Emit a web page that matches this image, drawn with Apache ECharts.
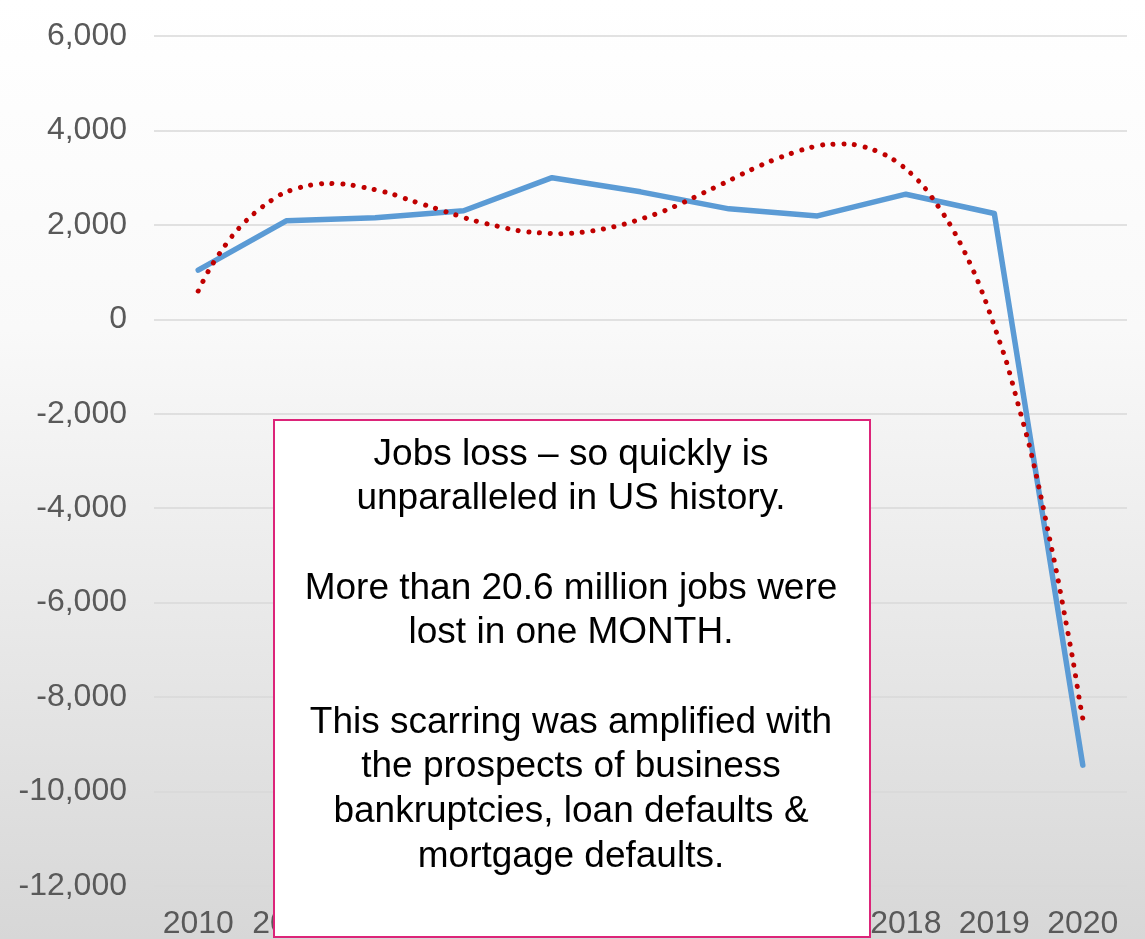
<!DOCTYPE html>
<html>
<head>
<meta charset="utf-8">
<script src="https://cdn.jsdelivr.net/npm/echarts@6/dist/echarts.min.js"></script>
<style>
  html, body { margin: 0; padding: 0; background: #fff; }
  #chart { width: 1145px; height: 939px; }
</style>
</head>
<body>
<div id="chart"></div>
<script>
// Annual change in US payroll jobs (thousands)
const years = ['2010', '2011', '2012', '2013', '2014', '2015', '2016', '2017', '2018', '2019', '2020'];
const jobsChange = [1040, 2090, 2150, 2300, 3000, 2700, 2340, 2190, 2650, 2240, -9440];

// Polynomial trendline, sampled along fractional years
const trendYears = [2010.00, 2010.12, 2010.25, 2010.40, 2010.57, 2010.76, 2010.96, 2011.20, 2011.45, 2011.68,
  2011.93, 2012.17, 2012.40, 2012.64, 2012.87, 2013.11, 2013.36, 2013.60, 2013.84, 2014.09,
  2014.33, 2014.58, 2014.82, 2015.05, 2015.29, 2015.52, 2015.73, 2015.96, 2016.18, 2016.41,
  2016.64, 2016.87, 2017.11, 2017.35, 2017.59, 2017.82, 2018.02, 2018.20, 2018.34, 2018.48,
  2018.60, 2018.71, 2018.81, 2018.90, 2018.98, 2019.06, 2019.14, 2019.27, 2019.40, 2019.51,
  2019.61, 2019.71, 2019.80, 2019.89, 2019.97, 2020.00];
const trendValues = [600, 1040, 1420, 1800, 2140, 2430, 2670, 2815, 2878, 2857,
  2772, 2667, 2520, 2377, 2236, 2095, 1982, 1884, 1834, 1813,
  1841, 1912, 2018, 2152, 2314, 2504, 2695, 2899, 3104, 3302,
  3471, 3612, 3704, 3711, 3619, 3429, 3153, 2815, 2462, 2067,
  1665, 1248, 825, 390, -35, -472, -917, -1806, -2702, -3605,
  -4508, -5411, -6314, -7231, -8148, -8450];

const yTicks = { min: -12000, max: 6000, step: 2000 };

const noteLines = [
  'Jobs loss \u2013 so quickly is',
  'unparalleled in US history.',
  '',
  'More than 20.6 million jobs were',
  'lost in one MONTH.',
  '',
  'This scarring was amplified with',
  'the prospects of business',
  'bankruptcies, loan defaults &',
  'mortgage defaults.'
];

const chart = echarts.init(document.getElementById('chart'));
const fontFamily = '"Liberation Sans", Arial, sans-serif';

chart.setOption({
  animation: false,
  backgroundColor: {
    type: 'linear', x: 0, y: 0, x2: 0, y2: 1,
    colorStops: [
      { offset: 0, color: '#ffffff' },
      { offset: 0.35, color: '#f9f9f9' },
      { offset: 1, color: '#d7d7d7' }
    ]
  },
  grid: { left: 154, right: 18, top: 36, bottom: 53, containLabel: false, outerBoundsMode: 'none' },
  xAxis: [
    {
      type: 'category',
      data: years,
      boundaryGap: true,
      axisLine: { show: false },
      axisTick: { show: false },
      axisLabel: { color: '#595959', fontSize: 32, fontFamily, margin: 22, interval: 0 }
    },
    {
      type: 'value',
      min: 2009.5,
      max: 2020.5,
      show: false
    }
  ],
  yAxis: {
    type: 'value',
    min: yTicks.min,
    max: yTicks.max,
    interval: yTicks.step,
    axisLine: { show: false },
    axisTick: { show: false },
    splitLine: { lineStyle: { color: '#d9d9d9', width: 1.5 } },
    axisLabel: {
      color: '#595959', fontSize: 32, fontFamily, margin: 27,
      formatter: v => v.toLocaleString('en-US')
    }
  },
  series: [
    {
      name: 'Jobs change',
      type: 'line',
      xAxisIndex: 0,
      data: jobsChange,
      symbol: 'none',
      lineStyle: { color: '#5b9bd5', width: 5.5, cap: 'round', join: 'round' },
      z: 3
    },
    {
      name: 'Trend',
      type: 'line',
      xAxisIndex: 1,
      data: trendYears.map((y, i) => [y, trendValues[i]]),
      symbol: 'none',
      smooth: 0.3,
      lineStyle: { color: '#c00000', width: 5, type: [0.1, 10.6], cap: 'round' },
      z: 4
    }
  ],
  graphic: [
    {
      type: 'rect',
      left: 273,
      top: 419,
      z: 100,
      zlevel: 1,
      shape: { x: 0, y: 0, width: 596, height: 517 },
      style: { fill: '#ffffff', stroke: '#dc2479', lineWidth: 2 }
    },
    {
      type: 'text',
      x: 571,
      y: 432,
      z: 101,
      zlevel: 1,
      style: {
        text: noteLines.join('\n'),
        fill: '#000000',
        font: '37px "Liberation Sans", Arial, sans-serif',
        lineHeight: 44.7,
        align: 'center',
        verticalAlign: 'top'
      }
    }
  ]
});
</script>
</body>
</html>
